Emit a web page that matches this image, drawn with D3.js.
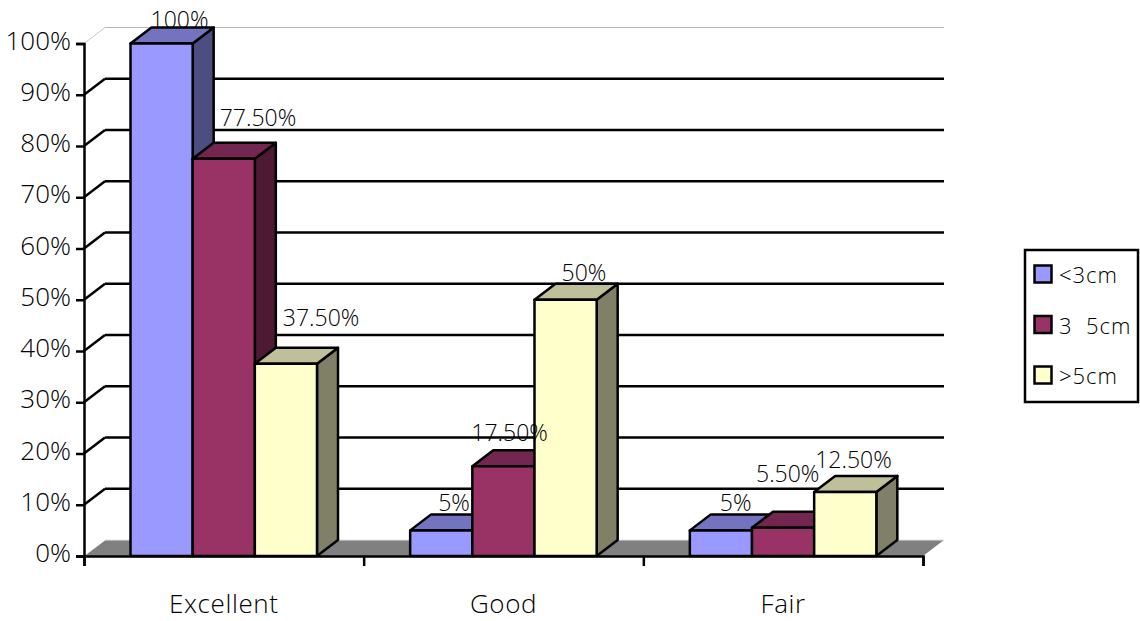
<!DOCTYPE html>
<html>
<head>
<meta charset="utf-8">
<script src="https://cdn.jsdelivr.net/npm/d3@7"></script>
<style>
  html, body { margin: 0; padding: 0; background: #fff; }
  text { font-family: "Open Sans", sans-serif; font-weight: 300; fill: #000; white-space: pre; }
</style>
</head>
<body>
<div id="chart"></div>
<script>
// data
const categories = ["Excellent", "Good", "Fair"];
const seriesNames = ["<3cm", "3  5cm", ">5cm"];
const small = [100, 5, 5];
const medium = [77.5, 17.5, 5.5];
const large = [37.5, 50, 12.5];
const smallLabels = ["100%", "5%", "5%"];
const mediumLabels = ["77.50%", "17.50%", "5.50%"];
const largeLabels = ["37.50%", "50%", "12.50%"];
const yTicks = [0, 10, 20, 30, 40, 50, 60, 70, 80, 90, 100];

const width = 1140, height = 621;
const x0 = 84, x1 = 923, yBase = 556, yTop = 43.5;
const depthX = 21, depthY = 16;
const lineW = 2.5;

const colors = [
  { front: "#9999ff", top: "#7373bf", side: "#4d4d80" },
  { front: "#993366", top: "#732650", side: "#4d1933" },
  { front: "#ffffcc", top: "#bfbf99", side: "#808066" }
];

// hand placed label shifts from the bar's left edge, [dx, dy above back edge]
const labelNudge = [
  [[20, 0], [27, 17], [28, 22]],
  [[28, 3], [-1, 9], [27, 3]],
  [[30, 3], [4, 30], [1, 8]]
];

const svg = d3.select("#chart").append("svg")
  .attr("width", width)
  .attr("height", height)
  .style("display", "block");

const xScale = d3.scaleBand().domain(categories).range([x0, x1]);
const xInner = d3.scaleBand().domain([0, 1, 2]).range([46.5, 233]);
const yScale = d3.scaleLinear().domain([0, 100]).range([yBase, yTop]);

// floor and back wall
svg.append("path")
  .attr("d", `M${x0},${yBase}L${x0 + depthX},${yBase - depthY}H${x1 + depthX}L${x1},${yBase}Z`)
  .attr("fill", "#808080");
svg.append("line")
  .attr("x1", x0 + 1).attr("y1", yBase - 1)
  .attr("x2", x0 + depthX).attr("y2", yBase - depthY)
  .attr("stroke", "#fff").attr("stroke-width", 1);
svg.append("line")
  .attr("x1", x0 + depthX).attr("y1", yBase - depthY)
  .attr("x2", x1 + depthX).attr("y2", yBase - depthY)
  .attr("stroke", "#e4e4e4").attr("stroke-width", 1);

// gridlines
yTicks.forEach(function(t) {
  var y = yScale(t);
  if (t === 0) return;
  var light = t === 100;
  svg.append("line")
    .attr("x1", x0).attr("y1", y)
    .attr("x2", x0 + depthX).attr("y2", y - depthY)
    .attr("stroke", light ? "#c8c8c8" : "#000")
    .attr("stroke-width", light ? 1 : lineW);
  svg.append("line")
    .attr("x1", x0 + depthX).attr("y1", y - depthY)
    .attr("x2", x1 + depthX).attr("y2", y - depthY)
    .attr("stroke", light ? "#b8b8b8" : "#000")
    .attr("stroke-width", light ? 1 : lineW);
});

// bars
const seriesValues = [small, medium, large];
const seriesLabels = [smallLabels, mediumLabels, largeLabels];

categories.forEach(function(cat, c) {
  seriesValues.forEach(function(values, s) {
    var left = xScale(cat) + xInner(s);
    var right = left + xInner.bandwidth();
    var top = yScale(values[c]);
    var g = svg.append("g")
      .attr("stroke", "#000")
      .attr("stroke-width", lineW)
      .attr("stroke-linejoin", "round");
    g.append("path")
      .attr("fill", colors[s].side)
      .attr("d", `M${right},${top}L${right + depthX},${top - depthY}V${yBase - depthY}L${right},${yBase}Z`);
    g.append("path")
      .attr("fill", colors[s].top)
      .attr("d", `M${left},${top}L${left + depthX},${top - depthY}H${right + depthX}L${right},${top}Z`);
    g.append("rect")
      .attr("fill", colors[s].front)
      .attr("x", left)
      .attr("y", top)
      .attr("width", right - left)
      .attr("height", yBase - top);
  });
});

// data labels
categories.forEach(function(cat, c) {
  seriesValues.forEach(function(values, s) {
    var left = xScale(cat) + xInner(s);
    var nudge = labelNudge[c][s];
    svg.append("text")
      .attr("x", left + nudge[0])
      .attr("y", yScale(values[c]) - depthY - nudge[1])
      .attr("font-size", 23)
      .text(seriesLabels[s][c]);
  });
});

// y axis
const yAxis = d3.axisLeft(yScale)
  .tickValues(yTicks)
  .tickSize(8)
  .tickPadding(5)
  .tickFormat(function(d) { return d + "%"; });

const yG = svg.append("g")
  .attr("transform", `translate(${x0},0)`)
  .call(yAxis);
yG.selectAll("path, line").attr("stroke", "#000").attr("stroke-width", lineW);
yG.selectAll("text")
  .attr("font-family", null)
  .attr("dy", "0.22em")
  .style("font-size", "26px");

// x axis, ticks sit on the band edges
const xEdges = d3.scaleLinear().domain([0, categories.length]).range([x0, x1]);
const xAxis = d3.axisBottom(xEdges)
  .ticks(categories.length)
  .tickSize(10)
  .tickSizeOuter(10)
  .tickFormat("");

const xG = svg.append("g")
  .attr("transform", `translate(0,${yBase})`)
  .call(xAxis);
xG.selectAll("path, line").attr("stroke", "#000").attr("stroke-width", lineW);

svg.selectAll(".cat")
  .data(categories)
  .enter()
  .append("text")
  .attr("class", "cat")
  .attr("x", function(d) { return xScale(d) + xScale.bandwidth() / 2; })
  .attr("y", 613)
  .attr("text-anchor", "middle")
  .attr("font-size", 26)
  .attr("letter-spacing", 0.6)
  .text(function(d) { return d; });

// legend
const legend = svg.append("g");
legend.append("rect")
  .attr("x", 1025).attr("y", 250)
  .attr("width", 113).attr("height", 152)
  .attr("fill", "#fff").attr("stroke", "#000").attr("stroke-width", lineW);

seriesNames.forEach(function(name, i) {
  legend.append("rect")
    .attr("x", 1034.5).attr("y", 265.5 + i * 50.5)
    .attr("width", 17).attr("height", 17)
    .attr("fill", colors[i].front)
    .attr("stroke", "#000").attr("stroke-width", lineW);
  legend.append("text")
    .attr("x", 1059).attr("y", 283 + i * 50.5)
    .attr("font-size", 22)
    .attr("letter-spacing", 1)
    .text(name);
});
</script>
</body>
</html>
